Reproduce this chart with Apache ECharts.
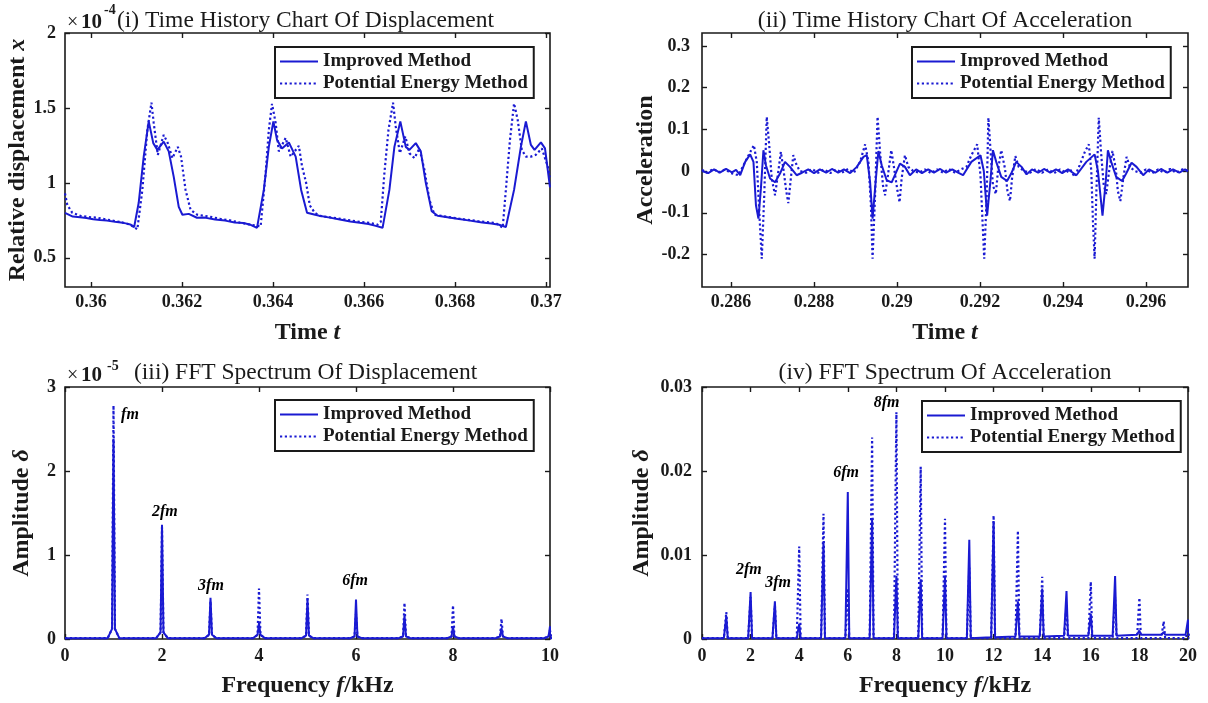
<!DOCTYPE html>
<html><head><meta charset="utf-8">
<script src="https://cdn.jsdelivr.net/npm/echarts@6/dist/echarts.min.js"></script>
<style>html,body{margin:0;padding:0;background:#fff}#c{width:1208px;height:703px}</style>
</head><body><div id="c"></div>
<script>
// ---------- DATA ----------
// (i) relative displacement (x 1e-4) vs time t
const dispImproved = [[0.35943,0.80],[0.35960,0.775],[0.35976,0.77],[0.35990,0.765],[0.36005,0.757],[0.36020,0.752],[0.36035,0.748],[0.36053,0.74],[0.36070,0.733],[0.36080,0.728],[0.36088,0.72],[0.36095,0.705],[0.36105,0.867],[0.36116,1.175],[0.36127,1.41],[0.36137,1.265],[0.36146,1.22],[0.36160,1.275],[0.36171,1.21],[0.36182,1.04],[0.36193,0.84],[0.36201,0.787],[0.36215,0.793],[0.36233,0.767],[0.36250,0.768],[0.36273,0.755],[0.36295,0.748],[0.36316,0.735],[0.36335,0.732],[0.36351,0.72],[0.36365,0.70],[0.36380,0.953],[0.36391,1.24],[0.36401,1.41],[0.36409,1.287],[0.36420,1.23],[0.36435,1.27],[0.36450,1.175],[0.36462,0.953],[0.36475,0.80],[0.36502,0.78],[0.36525,0.768],[0.36547,0.755],[0.36570,0.742],[0.36591,0.733],[0.36610,0.725],[0.36626,0.713],[0.36641,0.70],[0.36656,0.953],[0.36667,1.24],[0.36680,1.41],[0.36692,1.24],[0.36700,1.22],[0.36714,1.265],[0.36725,1.21],[0.36736,1.0],[0.36749,0.81],[0.36762,0.78],[0.36780,0.772],[0.36805,0.76],[0.36833,0.748],[0.36860,0.735],[0.36880,0.728],[0.36897,0.72],[0.36912,0.705],[0.36930,0.953],[0.36945,1.24],[0.36956,1.41],[0.36967,1.253],[0.36975,1.22],[0.36989,1.27],[0.36998,1.23],[0.37009,0.97]];
const dispPotential = [[0.35943,0.93],[0.35948,0.853],[0.35959,0.80],[0.35977,0.78],[0.35995,0.772],[0.36014,0.767],[0.36035,0.755],[0.36053,0.745],[0.36070,0.735],[0.36087,0.72],[0.36102,0.69],[0.36113,0.953],[0.36124,1.353],[0.36133,1.535],[0.36138,1.40],[0.36147,1.187],[0.36160,1.32],[0.36169,1.265],[0.36179,1.165],[0.36191,1.24],[0.36198,1.175],[0.36208,0.953],[0.36219,0.82],[0.36234,0.787],[0.36260,0.775],[0.36284,0.76],[0.36305,0.75],[0.36327,0.735],[0.36351,0.72],[0.36373,0.71],[0.36384,1.065],[0.36391,1.353],[0.36398,1.527],[0.36406,1.40],[0.36413,1.21],[0.36428,1.30],[0.36439,1.175],[0.36457,1.247],[0.36464,1.11],[0.36473,1.0],[0.36481,0.85],[0.36492,0.80],[0.36503,0.78],[0.36530,0.768],[0.36558,0.755],[0.36585,0.742],[0.36613,0.733],[0.36630,0.72],[0.36637,0.74],[0.36645,1.065],[0.36654,1.353],[0.36664,1.535],[0.36670,1.375],[0.36679,1.198],[0.36691,1.31],[0.36700,1.198],[0.36711,1.165],[0.36722,1.23],[0.36733,1.087],[0.36744,0.887],[0.36755,0.787],[0.36785,0.772],[0.36811,0.76],[0.36850,0.745],[0.36890,0.731],[0.36905,0.70],[0.36912,0.953],[0.36921,1.287],[0.36930,1.53],[0.36938,1.42],[0.36947,1.22],[0.36956,1.175],[0.36967,1.175],[0.36978,1.187],[0.36991,1.23],[0.37004,1.11],[0.37009,1.04]];
// (ii) acceleration vs time t
const accImproved = [[0.28530,0.000],[0.28545,-0.005],[0.28559,0.004],[0.28573,-0.004],[0.28588,0.005],[0.28602,-0.003],[0.28612,0.003],[0.28622,-0.010],[0.28634,0.022],[0.28646,0.040],[0.28654,0.022],[0.28660,-0.082],[0.28666,-0.114],[0.28672,-0.041],[0.28678,0.050],[0.28684,0.014],[0.28694,-0.018],[0.28706,-0.027],[0.28718,-0.006],[0.28730,0.022],[0.28742,0.010],[0.28758,-0.010],[0.28771,-0.004],[0.28786,0.004],[0.28800,-0.005],[0.28814,0.004],[0.28829,-0.004],[0.28843,0.005],[0.28858,-0.004],[0.28872,0.004],[0.28887,-0.005],[0.28903,0.010],[0.28919,0.034],[0.28927,0.038],[0.28935,-0.026],[0.28941,-0.114],[0.28949,-0.018],[0.28955,0.048],[0.28963,0.014],[0.28975,-0.022],[0.28987,-0.027],[0.28999,0.000],[0.29007,0.018],[0.29019,0.010],[0.29031,-0.010],[0.29046,0.004],[0.29060,-0.005],[0.29075,0.004],[0.29089,-0.004],[0.29104,0.005],[0.29118,-0.004],[0.29133,0.004],[0.29147,-0.004],[0.29159,-0.010],[0.29179,0.022],[0.29201,0.038],[0.29209,0.000],[0.29217,-0.107],[0.29225,-0.023],[0.29231,0.050],[0.29239,0.022],[0.29251,-0.014],[0.29265,-0.024],[0.29275,-0.006],[0.29287,0.022],[0.29300,0.010],[0.29312,-0.008],[0.29325,0.004],[0.29340,-0.004],[0.29354,0.005],[0.29369,-0.004],[0.29383,0.004],[0.29398,-0.005],[0.29412,0.004],[0.29432,-0.010],[0.29456,0.022],[0.29476,0.040],[0.29484,0.000],[0.29495,-0.107],[0.29503,-0.023],[0.29508,0.050],[0.29516,0.022],[0.29528,-0.014],[0.29542,-0.024],[0.29552,-0.006],[0.29565,0.020],[0.29577,0.010],[0.29593,-0.010],[0.29607,0.004],[0.29622,-0.004],[0.29636,0.005],[0.29651,-0.004],[0.29665,0.004],[0.29680,-0.004],[0.29694,0.004],[0.29701,0.000]];
const accPotential = [[0.28530,0.003],[0.28542,-0.004],[0.28557,0.005],[0.28571,-0.003],[0.28586,0.004],[0.28600,-0.005],[0.28618,-0.010],[0.28638,0.030],[0.28655,0.062],[0.28662,0.022],[0.28668,-0.098],[0.28674,-0.210],[0.28680,-0.058],[0.28686,0.130],[0.28692,0.062],[0.28698,-0.018],[0.28706,-0.058],[0.28714,0.000],[0.28720,0.046],[0.28726,0.006],[0.28733,-0.048],[0.28738,-0.077],[0.28744,-0.018],[0.28750,0.038],[0.28758,0.014],[0.28766,0.000],[0.28781,-0.004],[0.28795,0.005],[0.28810,-0.004],[0.28824,0.004],[0.28839,-0.005],[0.28853,0.004],[0.28867,-0.004],[0.28882,0.005],[0.28896,-0.004],[0.28911,0.022],[0.28923,0.064],[0.28931,0.022],[0.28937,-0.082],[0.28941,-0.210],[0.28947,-0.058],[0.28953,0.130],[0.28959,0.046],[0.28966,-0.034],[0.28971,-0.058],[0.28978,-0.010],[0.28986,0.050],[0.28993,0.006],[0.29001,-0.048],[0.29006,-0.075],[0.29011,-0.018],[0.29019,0.038],[0.29027,0.010],[0.29039,0.000],[0.29053,-0.004],[0.29067,0.004],[0.29082,-0.005],[0.29096,0.004],[0.29111,-0.004],[0.29125,0.005],[0.29140,-0.004],[0.29154,0.004],[0.29167,0.010],[0.29179,0.038],[0.29193,0.064],[0.29201,-0.010],[0.29206,-0.122],[0.29210,-0.210],[0.29216,-0.058],[0.29220,0.128],[0.29226,0.038],[0.29231,-0.034],[0.29238,-0.055],[0.29243,0.000],[0.29251,0.050],[0.29260,0.006],[0.29266,-0.048],[0.29272,-0.072],[0.29277,-0.018],[0.29285,0.036],[0.29293,0.010],[0.29306,0.000],[0.29320,-0.004],[0.29335,0.005],[0.29349,-0.004],[0.29364,0.004],[0.29378,-0.005],[0.29393,0.004],[0.29407,-0.004],[0.29417,0.004],[0.29428,-0.014],[0.29440,0.014],[0.29452,0.045],[0.29462,0.064],[0.29468,0.000],[0.29472,-0.122],[0.29476,-0.210],[0.29480,-0.058],[0.29486,0.128],[0.29492,0.038],[0.29498,-0.034],[0.29504,-0.055],[0.29511,0.000],[0.29519,0.048],[0.29527,0.006],[0.29532,-0.048],[0.29538,-0.072],[0.29545,-0.018],[0.29553,0.034],[0.29561,0.010],[0.29573,0.000],[0.29586,-0.004],[0.29600,0.004],[0.29615,-0.005],[0.29629,0.004],[0.29643,-0.004],[0.29658,0.005],[0.29672,-0.004],[0.29687,0.004],[0.29701,0.000]];
// (iii) FFT of displacement (x 1e-5), peaks at harmonics (kHz)
const dispHarmonics = [1,2,3,4,5,6,7,8,9,10];
const dispFftImproved = [2.38,1.36,0.49,0.19,0.47,0.47,0.28,0.15,0.13,0.15];
const dispFftPotential = [2.78,1.33,0.45,0.60,0.53,0.30,0.43,0.40,0.24,0.10];
const dispFftSkirt = [0.12,0.08,0.05,0.05,0.04,0.03,0.03,0.03,0.03,0.03];
const dispFftBase = [0.01,0.01,0.01,0.01,0.01,0.01,0.01,0.01,0.01,0.01];
// (iv) FFT of acceleration
const accHarmonics = [1,2,3,4,5,6,7,8,9,10,11,12,13,14,15,16,17,18,19,20];
const accFftImproved = [0.0027,0.0056,0.0045,0.0018,0.0116,0.0175,0.0143,0.0075,0.0071,0.0074,0.0118,0.0140,0.0045,0.0060,0.0057,0.0030,0.0075,0.0010,0.0008,0.0023];
const accFftPotential = [0.0032,0.0050,0.0040,0.0110,0.0149,0.0060,0.0240,0.0270,0.0205,0.0143,0.0085,0.0147,0.0129,0.0074,0.0040,0.0068,0.0050,0.0049,0.0021,0.0010];
const accFftImpBase = [0.0001,0.0001,0.0001,0.0001,0.0001,0.0001,0.0001,0.0001,0.0001,0.0001,0.0001,0.0002,0.0003,0.0003,0.0004,0.0004,0.0004,0.0005,0.0005,0.0005];
const accFftPotBase = [0.0001,0.0001,0.0001,0.0001,0.0001,0.0001,0.0001,0.0001,0.0001,0.0001,0.0001,0.0001,0.0001,0.0001,0.0001,0.0001,0.0001,0.0001,0.0001,0.0001];
// tick labels
const dispTimeTicks = [0.36,0.362,0.364,0.366,0.368,0.37];
const dispValueTicks = [0.5,1,1.5,2];
const accTimeTicks = [0.286,0.288,0.29,0.292,0.294,0.296];
const accValueTicks = [-0.2,-0.1,0,0.1,0.2,0.3];
// harmonic annotations [freq, amplitude, text]
const dispFftNotes = [[1.34,2.67,'fm'],[2.06,1.51,'2fm'],[3.01,0.63,'3fm'],[5.98,0.69,'6fm']];
const accFftNotes = [[1.93,0.0082,'2fm'],[3.13,0.0067,'3fm'],[5.93,0.0198,'6fm'],[7.6,0.0281,'8fm']];
const seriesNames = ['Improved Method','Potential Energy Method'];

// ---------- BUILD ----------
const SERIF = '"Liberation Serif","Times New Roman",serif';
const BLUE = '#1a1ad2';
const INK = '#1a1a1a';

function spikes(freqs, peaks, skirts, bases, hw, sw, start, end) {
  const pts = [[start, bases[0]]];
  freqs.forEach((f, i) => {
    pts.push([f - sw, bases[i]]);
    pts.push([f - hw, skirts ? skirts[i] : bases[i]]);
    pts.push([f, peaks[i]]);
    pts.push([f + hw, skirts ? skirts[i] : bases[i]]);
    pts.push([f + sw, bases[i]]);
  });
  pts.push([end, bases[bases.length - 1]]);
  return pts;
}

const grids = [
  {left:65, top:33, width:485, height:254},
  {left:702, top:33, width:486, height:254},
  {left:65, top:387, width:485, height:252},
  {left:702, top:387, width:486, height:252}
].map(g => Object.assign({show:true, borderColor:INK, borderWidth:1.6, backgroundColor:'rgba(0,0,0,0)'}, g));

const tickBase = {inside:true, length:5, lineStyle:{color:INK, width:1.4}};
const labelBase = {fontFamily:SERIF, fontSize:18, fontWeight:'bold', color:INK};
const NAME_SIZE = 24;
const richName = {
  n:{fontFamily:SERIF, fontSize:NAME_SIZE, fontWeight:'bold', color:INK},
  v:{fontFamily:SERIF, fontSize:NAME_SIZE, fontWeight:'bold', fontStyle:'italic', color:INK}
};

function axis(dim, gi, cfg, mirror) {
  const tick = Object.assign({}, tickBase);
  const lab = Object.assign({margin: cfg.margin}, labelBase, {show: !mirror});
  if (cfg.fmt) lab.formatter = cfg.fmt;
  if (cfg.ticks) { tick.customValues = cfg.ticks; lab.customValues = cfg.ticks; }
  const a = {type:'value', gridIndex:gi, min:cfg.min, max:cfg.max, scale:true,
    axisLine:{show:false, onZero:false}, splitLine:{show:false}, axisTick:tick, axisLabel:lab};
  if (cfg.interval) a.interval = cfg.interval;
  if (dim === 'x') a.position = mirror ? 'top' : 'bottom';
  else a.position = mirror ? 'right' : 'left';
  if (!mirror && cfg.name) {
    a.name = cfg.name; a.nameLocation = 'middle'; a.nameGap = cfg.gap;
    a.nameTextStyle = {rich: richName};
  }
  return a;
}

const f3 = v => String(Math.round(v * 1000) / 1000);
const f1 = v => String(Math.round(v * 10) / 10);
const f2 = v => String(Math.round(v * 100) / 100);

const xCfg = [
  {min:0.35943, max:0.37009, ticks:dispTimeTicks, fmt:f3, margin:6, name:'{n|Time }{v|t}', gap:34},
  {min:0.2853, max:0.29701, ticks:accTimeTicks, fmt:f3, margin:6, name:'{n|Time }{v|t}', gap:34},
  {min:0, max:10, interval:2, margin:8, name:'{n|Frequency }{v|f}{n|/kHz}', gap:35},
  {min:0, max:20, interval:2, margin:8, name:'{n|Frequency }{v|f}{n|/kHz}', gap:35}
];
const yCfg = [
  {min:0.305, max:2, ticks:dispValueTicks, fmt:f1, margin:9, name:'{n|Relative displacement }{v|x}', gap:32},
  {min:-0.278, max:0.331, ticks:accValueTicks, fmt:f1, margin:12, name:'{n|Acceleration}', gap:42},
  {min:0, max:3, interval:1, margin:9, name:'{n|Amplitude }{v|δ}', gap:31},
  {min:0, max:0.03, interval:0.01, fmt:f2, margin:10, name:'{n|Amplitude }{v|δ}', gap:48}
];

const xAxes = [], yAxes = [];
for (let i = 0; i < 4; i++) xAxes.push(axis('x', i, xCfg[i], false));
for (let i = 0; i < 4; i++) xAxes.push(axis('x', i, xCfg[i], true));
for (let i = 0; i < 4; i++) yAxes.push(axis('y', i, yCfg[i], false));
for (let i = 0; i < 4; i++) yAxes.push(axis('y', i, yCfg[i], true));

const solid = {color:BLUE, width:2, type:'solid'};
const dotted = {color:BLUE, width:2.2, type:[2.2,2.6]};
function lineSeries(name, gi, data, ls, z) {
  return {type:'line', name, xAxisIndex:gi, yAxisIndex:gi, data, symbol:'none', showSymbol:false,
    lineStyle:ls, itemStyle:{color:BLUE}, z, animation:false, clip:true};
}
function notes(gi, data) {
  return {type:'scatter', name:'notes'+gi, xAxisIndex:gi, yAxisIndex:gi, data, symbolSize:0,
    itemStyle:{color:'rgba(0,0,0,0)'}, silent:true, z:5,
    label:{show:true, position:'inside', formatter:p => p.data[2], fontFamily:SERIF, fontSize:16,
      fontWeight:'bold', fontStyle:'italic', color:'#000', textBorderWidth:0, textBorderColor:'transparent',
      textShadowBlur:0, opacity:1}};
}

const series = [
  lineSeries(seriesNames[1], 0, dispPotential, dotted, 2),
  lineSeries(seriesNames[0], 0, dispImproved, solid, 3),
  lineSeries(seriesNames[1], 1, accPotential, dotted, 2),
  lineSeries(seriesNames[0], 1, accImproved, solid, 3),
  lineSeries(seriesNames[1], 2, spikes(dispHarmonics, dispFftPotential, dispFftSkirt, dispFftBase, 0.03, 0.12, 0, 10), dotted, 2),
  lineSeries(seriesNames[0], 2, spikes(dispHarmonics, dispFftImproved, dispFftSkirt, dispFftBase, 0.03, 0.12, 0, 10), solid, 3),
  lineSeries(seriesNames[1], 3, spikes(accHarmonics, accFftPotential, null, accFftPotBase, 0.06, 0.1, 0, 20), dotted, 2),
  lineSeries(seriesNames[0], 3, spikes(accHarmonics, accFftImproved, null, accFftImpBase, 0.06, 0.1, 0, 20), solid, 3),
  notes(2, dispFftNotes),
  notes(3, accFftNotes)
];

function legendAt(left, top) {
  return {left, top, orient:'vertical', itemWidth:38, itemHeight:14, itemGap:3,
    padding:[5,6,5,4], borderColor:INK, borderWidth:2, backgroundColor:'#fff', borderRadius:0,
    textStyle:{fontFamily:SERIF, fontSize:19, fontWeight:'bold', color:INK},
    itemStyle:{opacity:0, borderWidth:0},
    data:seriesNames, selectedMode:false, z:10};
}

function txt(x, y, text, size, weight, align) {
  return {type:'text', x, y, silent:true, style:{text, fontFamily:SERIF, fontSize:size, fontWeight:weight || 'normal',
    fill:INK, align: align || 'left', verticalAlign:'middle'}};
}

const graphic = [
  txt(67, 23, '×', 20), txt(81, 23, '10', 21, 'bold'), txt(104, 10, '-4', 14, 'bold'),
  txt(117, 21, '(i) Time History Chart Of Displacement', 23.5),
  txt(945, 21, '(ii) Time History Chart Of Acceleration', 23.5, 'normal', 'center'),
  txt(67, 376, '×', 20), txt(81, 376, '10', 21, 'bold'), txt(107, 366, '-5', 14, 'bold'),
  txt(134, 373, '(iii) FFT Spectrum Of Displacement', 23.5),
  txt(945, 373, '(iv) FFT Spectrum Of Acceleration', 23.5, 'normal', 'center')
];

const chart = echarts.init(document.getElementById('c'), null, {renderer:'canvas'});
chart.setOption({
  animation:false,
  backgroundColor:'#fff',
  grid:grids, xAxis:xAxes, yAxis:yAxes, series,
  legend:[legendAt(275,47), legendAt(912,47), legendAt(275,400), legendAt(922,401)],
  graphic
});
</script></body></html>
